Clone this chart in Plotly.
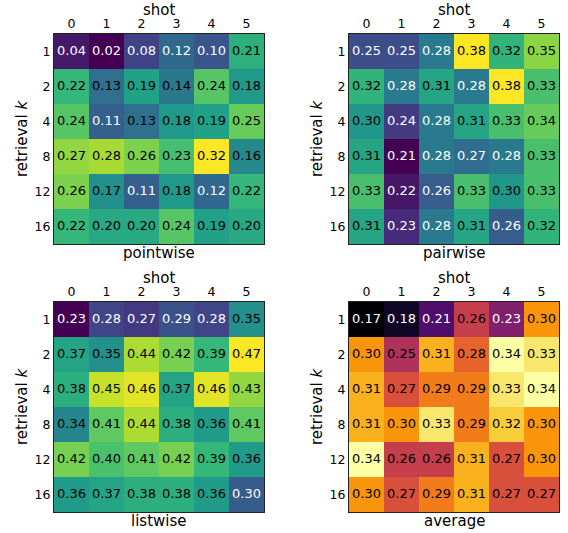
import plotly.graph_objects as go

shots = [0, 1, 2, 3, 4, 5]
ks = ["1", "2", "4", "8", "12", "16"]

pointwise = [
    [0.04, 0.02, 0.08, 0.12, 0.10, 0.21],
    [0.22, 0.13, 0.19, 0.14, 0.24, 0.18],
    [0.24, 0.11, 0.13, 0.18, 0.19, 0.25],
    [0.27, 0.28, 0.26, 0.23, 0.32, 0.16],
    [0.26, 0.17, 0.11, 0.18, 0.12, 0.22],
    [0.22, 0.20, 0.20, 0.24, 0.19, 0.20],
]
pairwise = [
    [0.25, 0.25, 0.28, 0.38, 0.32, 0.35],
    [0.32, 0.28, 0.31, 0.28, 0.38, 0.33],
    [0.30, 0.24, 0.28, 0.31, 0.33, 0.34],
    [0.31, 0.21, 0.28, 0.27, 0.28, 0.33],
    [0.33, 0.22, 0.26, 0.33, 0.30, 0.33],
    [0.31, 0.23, 0.28, 0.31, 0.26, 0.32],
]
listwise = [
    [0.23, 0.28, 0.27, 0.29, 0.28, 0.35],
    [0.37, 0.35, 0.44, 0.42, 0.39, 0.47],
    [0.38, 0.45, 0.46, 0.37, 0.46, 0.43],
    [0.34, 0.41, 0.44, 0.38, 0.36, 0.41],
    [0.42, 0.40, 0.41, 0.42, 0.39, 0.36],
    [0.36, 0.37, 0.38, 0.38, 0.36, 0.30],
]
average = [
    [0.17, 0.18, 0.21, 0.26, 0.23, 0.30],
    [0.30, 0.25, 0.31, 0.28, 0.34, 0.33],
    [0.31, 0.27, 0.29, 0.29, 0.33, 0.34],
    [0.31, 0.30, 0.33, 0.29, 0.32, 0.30],
    [0.34, 0.26, 0.26, 0.31, 0.27, 0.30],
    [0.30, 0.27, 0.29, 0.31, 0.27, 0.27],
]

panels = [
    ("pointwise", pointwise, "Viridis", 0.125),
    ("pairwise", pairwise, "Viridis", 0.29),
    ("listwise", listwise, "Viridis", 0.32),
    ("average", average, "Inferno", 0.24),
]

W, H = 568, 533
# pixel boxes (left, top) of each panel
boxes = [(54, 34), (349, 34), (54, 302), (349, 302)]
SIZE = 210

FONT = "DejaVu Sans"
fig = go.Figure()
layout = {}
annotations = []
for i, ((name, data, cs, thr), (lx, ty)) in enumerate(zip(panels, boxes)):
    n = i + 1
    xa = "x" if n == 1 else f"x{n}"
    ya = "y" if n == 1 else f"y{n}"
    flat = [v for row in data for v in row]
    fig.add_trace(go.Heatmap(
        z=data, x=shots, y=ks, colorscale=cs,
        zmin=min(flat), zmax=max(flat), showscale=False,
        xaxis=xa, yaxis=ya, hoverinfo="skip",
    ))
    tx, tyv, tt, tc = [], [], [], []
    for r, k in enumerate(ks):
        for c, s in enumerate(shots):
            v = data[r][c]
            tx.append(s)
            tyv.append(k)
            tt.append(f"{v:.2f}")
            tc.append("white" if v < thr else "black")
    fig.add_trace(go.Scatter(
        x=tx, y=tyv, text=tt, mode="text",
        textfont=dict(family=FONT, size=13, color=tc),
        xaxis=xa, yaxis=ya, showlegend=False, hoverinfo="skip",
    ))
    xkey = "xaxis" if n == 1 else f"xaxis{n}"
    ykey = "yaxis" if n == 1 else f"yaxis{n}"
    layout[xkey] = dict(
        domain=[lx / W, (lx + SIZE) / W], anchor=ya, side="top",
        range=[-0.5, 5.5], tickvals=shots, ticks="", showgrid=False,
        zeroline=False, showline=True, mirror=True, linecolor="#222",
        linewidth=1, tickfont=dict(family=FONT, size=12.5, color="black"),
    )
    layout[ykey] = dict(
        domain=[1 - (ty + SIZE) / H, 1 - ty / H], anchor=xa,
        type="category", categoryorder="array", categoryarray=ks,
        autorange="reversed", ticks="", showgrid=False, zeroline=False,
        showline=True, mirror=True, linecolor="#222", linewidth=1,
        tickfont=dict(family=FONT, size=12.5, color="black"),
        title=dict(text="retrieval <i>k</i>", font=dict(family=FONT, size=15, color="black"), standoff=3),
    )
    annotations.append(dict(
        text="shot", x=(lx + SIZE / 2) / W, y=1 - (ty - 34) / H,
        xref="paper", yref="paper", showarrow=False, xanchor="center", yanchor="top",
        font=dict(family=FONT, size=15, color="black"), borderpad=0,
    ))
    annotations.append(dict(
        text=name, x=(lx + SIZE / 2) / W, y=1 - (ty + SIZE + 9) / H,
        xref="paper", yref="paper", showarrow=False, xanchor="center", yanchor="middle",
        font=dict(family=FONT, size=15, color="black"),
    ))

fig.update_layout(
    width=W, height=H, margin=dict(l=0, r=0, t=0, b=0),
    paper_bgcolor="white", plot_bgcolor="white",
    annotations=annotations, **layout,
)
fig.write_html(
    "out.html",
    config={"displayModeBar": False},
    post_script="document.body.style.margin='0';document.body.style.overflow='hidden';",
)
